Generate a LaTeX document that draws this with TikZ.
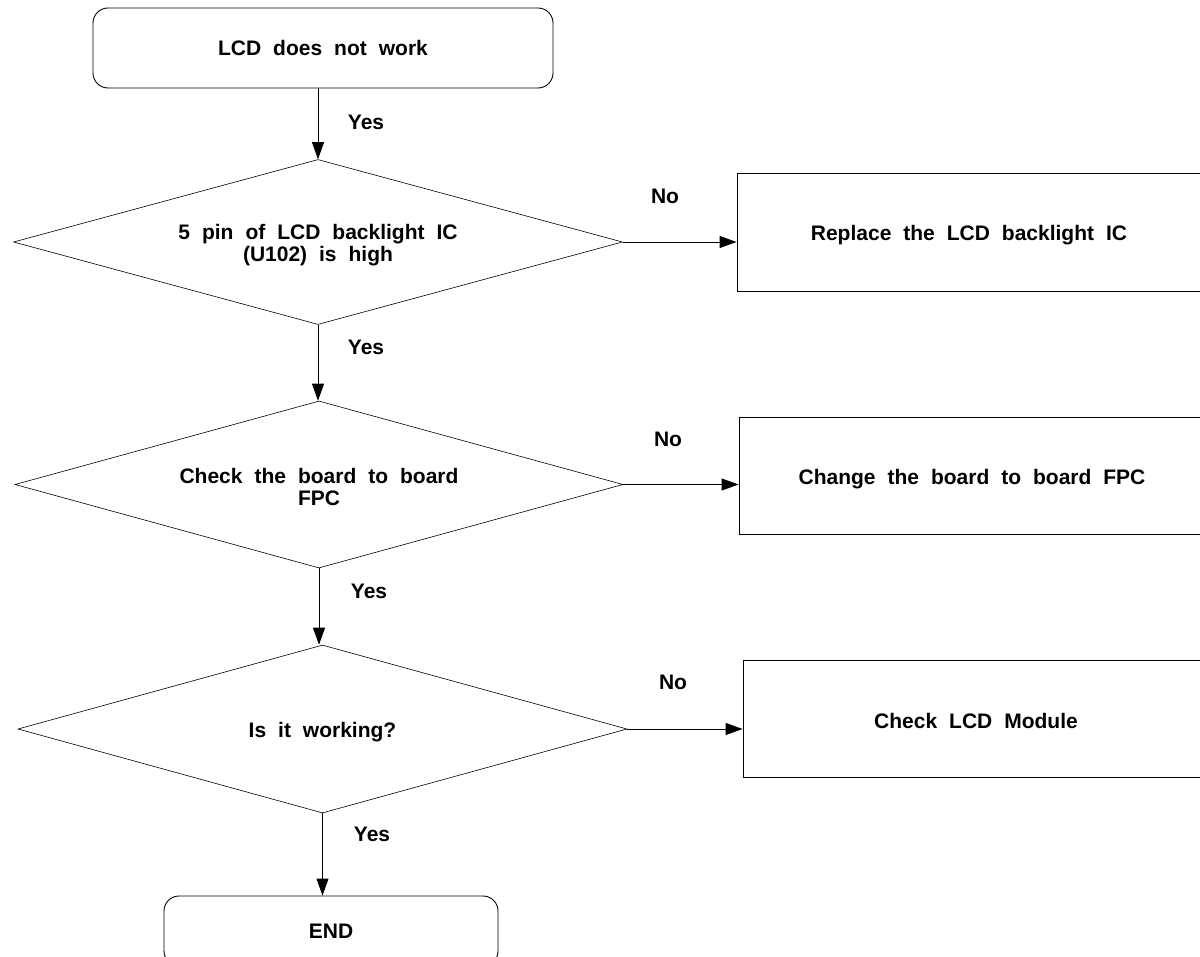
\documentclass[tikz,border=0pt]{standalone}
\usepackage{fontspec}
\setmainfont[WordSpace=2.05]{Liberation Sans}
\usetikzlibrary{shapes.geometric,arrows.meta}
\begin{document}
\begin{tikzpicture}[x=1pt,y=-1pt,
  txt/.style={font=\fontsize{21}{22}\selectfont\bfseries, align=center},
  startbox/.style={txt, draw, line width=0.9pt, rounded corners=15pt, inner sep=0pt},
  actbox/.style={txt, draw, line width=0.9pt, inner sep=0pt},
  decision/.style={txt, diamond, draw, line width=0.6pt, inner sep=0pt},
  flow/.style={-{Triangle[length=17pt,width=12pt]}, line width=0.9pt},
  lbl/.style={font=\fontsize{21}{22}\selectfont\bfseries},
  intext/.style 2 args={label={[txt,yshift=-#1]center:{#2}}}]
\useasboundingbox[fill=white] (0,0) rectangle (1200,957);

\node[startbox, minimum width=460pt, minimum height=80pt] (start) at (323,48) {LCD does not work};

\node[decision, aspect=3.69, minimum width=609pt, minimum height=165pt,
  intext={3pt}{5 pin of LCD backlight IC\\(U102) is high}] (d1) at (318,242) {};
\node[decision, aspect=3.64, minimum width=608pt, minimum height=167pt,
  intext={2pt}{Check the board to board\\FPC}] (d2) at (319,484.5) {};
\node[decision, aspect=3.63, minimum width=609pt, minimum height=168pt,
  intext={3pt}{Is it working?}] (d3) at (322.5,729) {};

\node[actbox, minimum width=464pt, minimum height=118pt,
  intext={3pt}{Replace the LCD backlight IC}] (b1) at (969,232) {};
\node[actbox, minimum width=466pt, minimum height=117pt,
  intext={3.5pt}{Change the board to board FPC}] (b2) at (972,475.5) {};
\node[actbox, minimum width=466pt, minimum height=117pt,
  intext={2pt}{Check LCD Module}] (b3) at (976,718.5) {};

\node[startbox, minimum width=334pt, minimum height=70pt] (end) at (331,931) {END};

\draw[flow] (d1.north |- start.south) -- (d1.north);
\draw[flow] (d1.south) -- (d1.south |- d2.north);
\draw[flow] (d2.south) -- (d2.south |- d3.north);
\draw[flow] (d3.south) -- (d3.south |- end.north);

\draw[flow] (d1.east) -- (b1.west |- d1.east);
\draw[flow] (d2.east) -- (b2.west |- d2.east);
\draw[flow] (d3.east) -- (b3.west |- d3.east);

\node[lbl] (y1) at (366,122) {Yes};
\node[lbl] (y2) at (366,347) {Yes};
\node[lbl] (y3) at (369,591) {Yes};
\node[lbl] (y4) at (372,834) {Yes};
\node[lbl] (n1) at (665,196) {No};
\node[lbl] (n2) at (668,439) {No};
\node[lbl] (n3) at (673,682) {No};
\end{tikzpicture}
\end{document}
